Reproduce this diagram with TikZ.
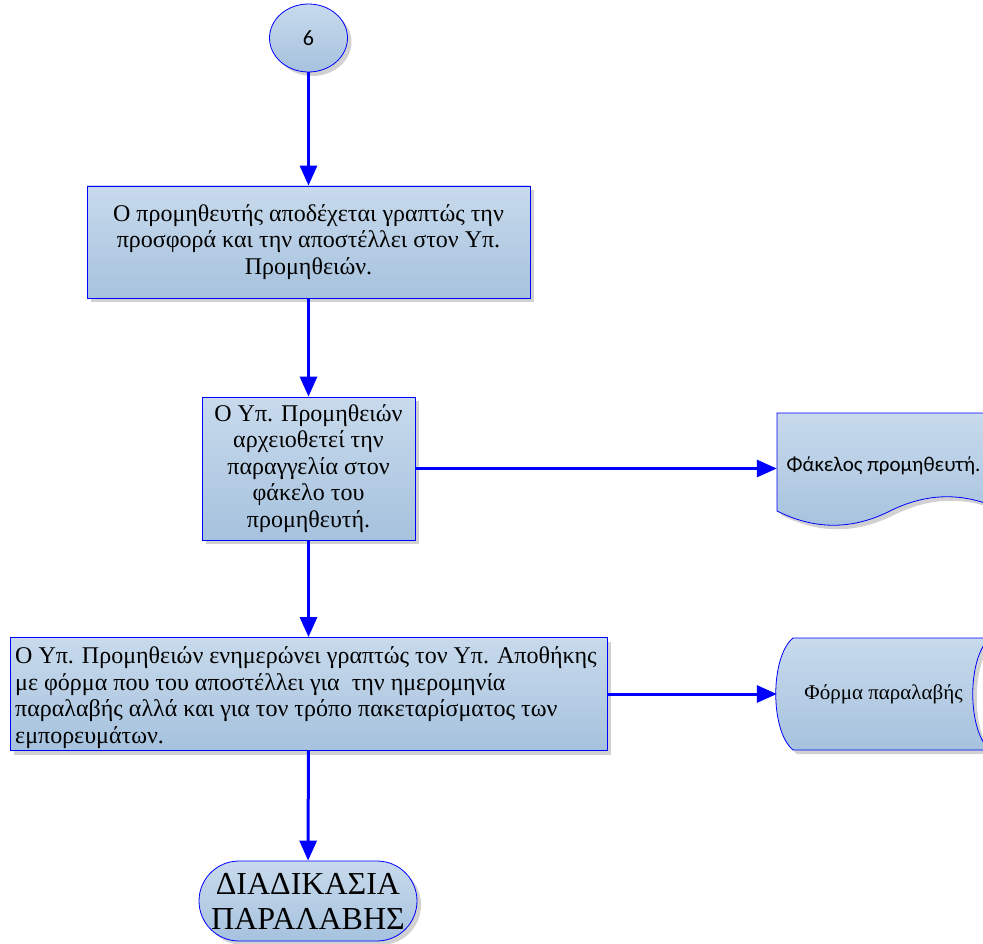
\documentclass[tikz,border=0pt]{standalone}
\usepackage{fontspec}
\setmainfont{Liberation Serif}
\newfontfamily\calibri{Carlito}
\usetikzlibrary{shapes.geometric,arrows.meta,shadows}

\definecolor{flowblue}{RGB}{0,0,255}
\definecolor{boxtop}{RGB}{200,218,236}
\definecolor{boxbot}{RGB}{166,194,222}

\begin{document}
\begin{tikzpicture}[x=1pt,y=-1pt,
  shadowed/.style={drop shadow={shadow xshift=4pt,shadow yshift=-4pt,fill=black,opacity=0.18}},
  box/.style={draw=flowblue,line width=0.8pt,top color=boxtop,bottom color=boxbot,
    inner sep=0pt,shadowed},
  boxtext/.style={font=\fontsize{24}{26.5}\selectfont},
  flow/.style={draw=flowblue,line width=3pt,-{Triangle[length=20pt,width=17pt]}},
  pathshadow/.style={preaction={fill=black,opacity=0.18,transform canvas={shift={(4pt,-4pt)}}}}
]
\useasboundingbox (0,0) rectangle (983,944);

% connector circle
\node[ellipse,box,minimum width=78pt,minimum height=68pt,font=\calibri\fontsize{22}{26}\selectfont]
  (start) at (308.5,38) {6};

% process steps
\node[box,boxtext,minimum width=443pt,minimum height=112pt,align=center]
  (accept) at (308.5,242)
  {Ο προμηθευτής αποδέχεται γραπτώς την\\προσφορά και την αποστέλλει στον Υπ.\\Προμηθειών.};

\node[box,boxtext,minimum width=213pt,minimum height=143pt,align=center]
  (archive) at (308.5,468.5)
  {Ο Υπ. Προμηθειών\\αρχειοθετεί την\\παραγγελία στον\\φάκελο του\\προμηθευτή.};

\node[box,minimum width=597pt,minimum height=113pt]
  (inform) at (308.5,694) {};
\node[boxtext,anchor=west,align=left,inner sep=0pt] (informtext) at (15,697.5)
  {Ο Υπ. Προμηθειών ενημερώνει γραπτώς τον Υπ. Αποθήκης\\με φόρμα που του αποστέλλει για\ \ την ημερομηνία\\παραλαβής αλλά και για τον τρόπο πακεταρίσματος των\\εμπορευμάτων.};

% terminator
\node[box,rounded corners=40pt,minimum width=218pt,minimum height=80pt,align=center,
  font=\fontsize{32}{35}\selectfont]
  (receive) at (308,901) {ΔΙΑΔΙΚΑΣΙΑ\\ΠΑΡΑΛΑΒΗΣ};

\begin{scope}
\clip (0,0) rectangle (983,944);
% document shape with wavy lower edge
\path[draw=flowblue,line width=0.8pt,top color=boxtop,bottom color=boxbot,pathshadow]
  (777,413) -- (1004,413) -- (1004,511)
  .. controls (966,492) and (928,492) .. (890,511)
  .. controls (852,530) and (815,530) .. (777,511) -- cycle;
% stored data shape
\path[draw=flowblue,line width=0.8pt,top color=boxtop,bottom color=boxbot,pathshadow]
  (793,638) -- (990,638) .. controls (967,657) and (967,731) .. (990,750)
  -- (793,750) .. controls (770,731) and (770,657) .. (793,638) -- cycle;
\end{scope}
\node[minimum width=213pt,minimum height=110pt,inner sep=0pt,
  font=\calibri\fontsize{21}{25}\selectfont] (folder) at (883.5,466) {Φάκελος προμηθευτή.};
\node[minimum width=213pt,minimum height=112pt,inner sep=0pt,
  font=\fontsize{21}{25}\selectfont] (form) at (883.5,694) {Φόρμα παραλαβής};

% connectors
\draw[flow] (start) -- (accept);
\draw[flow] (accept) -- (archive);
\draw[flow] (archive) -- (inform);
\draw[flow] (inform) -- (receive);
\draw[flow] (archive.east) -- (archive.east -| folder.west);
\draw[flow] (inform.east) -- (inform.east -| form.west);
\end{tikzpicture}
\end{document}
